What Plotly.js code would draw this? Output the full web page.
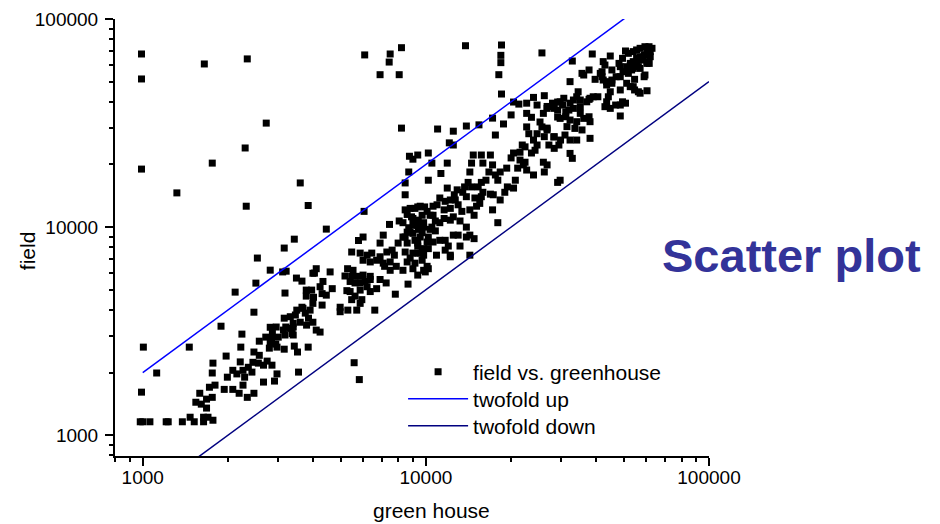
<!DOCTYPE html>
<html>
<head>
<meta charset="utf-8">
<script src="https://cdn.plot.ly/plotly-3.0.1.min.js"></script>
<style>html,body{margin:0;padding:0;background:#fff;}#chart{width:940px;height:524px;}</style>
</head>
<body>
<div id="chart"></div>
<script>
// green house (x) and field (y) values
const greenhouse = [
990,990,1650,2340,2730,2300,1760,990,3600,1320,2320,3840,3430,3160,2540,2820,3210,3490,3650,2510,
4040,2120,3180,3780,4010,2470,1890,2240,3160,3200,3400,2820,3400,2720,2580,2820,2980,2800,2950,3160,
3430,3520,3840,2220,2470,2580,1460,1005,1120,990,1970,1770,1760,1990,2080,2150,2260,2360,2430,2290,
2450,2560,2670,2750,2860,2980,2920,2670,2080,2190,2340,2470,2260,1940,1800,1720,1760,1680,1590,1540,
1610,1680,1640,1700,1470,1770,1520,1640,1380,1230,1210,1060,980,1000,3550,5580,5820,2210,
6050,4450,7440,8050,8590,8800,9360,9900,10600,10350,9700,9000,9360,9820,10500,10800,8590,9000,8300,9550,
10100,9360,7980,7600,7070,6890,5780,6000,5470,5860,6200,6440,6000,6360,6700,7070,7480,6890,7280,7740,
8450,8800,9360,9700,9820,8590,9150,9700,10100,9820,10900,10200,10600,7860,8300,7480,7150,9000,9360,10200,
9950,5290,5530,5470,5780,6000,6360,6360,6100,5860,5620,5860,6200,6360,6700,5400,5620,5470,5940,5860,
4980,5300,5700,4980,6600,6890,7240,7800,8650,5180,5400,5260,4590,4670,4450,4300,4230,4330,3990,4100,
3950,3780,3990,4300,3900,3680,3650,3500,3460,3320,3750,3850,3600,3400,3140,3320,3790,3990,4100,4230,
2960,2870,3010,2850,3180,3370,3120,
8200,11000,12500,13900,15400,17200,18800,17600,20400,22700,24700,26800,28000,29200,20000,22700,23600,25300,25700,22700,
23100,24700,26800,28300,29200,24000,24700,24300,23600,22400,21900,21500,20400,20000,21500,22400,22100,21100,26000,26200,
24000,22700,29200,29800,19300,18300,17600,17950,19400,20400,19000,17300,18300,16900,15700,14700,14500,15900,17200,16700,
16300,15700,15300,15900,16900,15700,14900,14300,14100,14500,13700,13500,13900,12900,12600,12700,12200,11700,11900,11200,
10950,11600,12200,13000,13400,14300,15100,15500,14800,10600,10800,11200,11600,12200,12500,13200,13900,14300,12500,13000,
13900,14800,13200,12200,14300,17950,17200,11200,11700,12000,11700,20700,8750,9000,9360,8700,10200,8450,11900,11300,
10200,8450,12100,12500,8450,9150,9550,10100,8900,9400,8300,8700,9000,9400,9820,10350,9700,10200,8800,8450,
9150,8590,9360,9820,9550,9000,12200,24000,21300,26200,10500,
25700,32900,38700,44800,50700,49500,48100,48600,42300,42900,45400,41900,41300,37700,36100,32300,51900,54000,55500,57100,
59400,61400,62900,62000,60400,59000,57100,55500,58300,60400,54000,52700,51200,54000,56300,49700,51900,48600,47000,53300,
55500,57100,60400,59400,54600,52700,54600,57100,60400,51200,48600,45400,43500,44800,44100,43500,42900,44800,46800,49500,
48600,50700,48600,45400,43500,41900,42300,39600,35600,34500,34100,33200,35100,32300,30700,29800,27500,26800,29200,30400,
31200,32000,33200,35100,37000,38000,39000,40500,35100,36100,37700,38000,34100,32300,31200,29800,31500,33600,35600,38000,
31000,29900,32300,34100,28400,26200,26800,26000,28400,32300,32900,26800,28400,29500,27200,54000,56300,59000,61500,62000,
37700,
6080,7480,7420,8200,6890,8050,13800,18500,18400,18400,18100,18500
];
const field = [
67900,51500,60800,64300,31600,24000,20300,19000,16300,14600,12600,12700,8750,7930,7100,6210,6140,5690,5500,5380,
6010,4870,4820,4980,4600,3900,3340,3060,3650,3310,3310,3300,3030,2960,2830,2770,2650,2620,2740,2590,
2680,2510,2650,2650,2510,2420,2650,2650,1990,1610,2400,2220,1990,1900,2050,1970,2050,2120,2010,1900,
2240,2220,2170,2270,2170,1970,1820,1800,1660,1590,1520,1590,1740,1660,1740,1700,1520,1490,1590,1440,
1410,1350,1220,1220,1220,1180,1160,1160,1160,1160,1160,1160,1160,1160,2010,2230,1850,2250,
11900,9780,10300,10700,11500,12300,12500,12500,12600,11400,11400,11000,10200,10500,10000,9590,9460,9330,8960,8960,
8480,8380,8380,7750,9150,8380,8620,8960,7590,7500,7330,7500,6930,6800,6930,6710,6800,7200,7590,7330,
7590,7100,7500,7750,7330,6800,6710,6930,6480,6200,7330,7880,8480,6480,6200,6200,6480,6310,5880,6310,
6090,6310,6200,5800,5800,5880,5800,5600,5480,5390,5390,4980,5170,4900,5060,4900,4660,4480,4480,4300,
4120,3990,3990,3920,3990,5600,5390,4760,5320,5820,5480,4950,6090,5060,4710,4790,5170,5480,6000,6310,
4980,4660,4300,4220,3990,4070,4120,3990,3780,3710,3860,3650,3490,3450,3200,3260,3380,3490,3200,3130,
3310,3080,2960,2860,3030,3080,6090,
29900,29600,28900,30600,31000,33400,31300,27700,39900,39400,38600,38000,39400,39900,34600,35200,33700,32000,30300,30300,
28100,28100,29900,27100,33800,26200,24800,23400,22700,24300,24800,22900,22700,21500,21000,20500,19900,19200,20500,18400,
17800,18800,16400,16800,19200,18400,17800,16800,15600,15400,14700,14300,13500,22200,22200,22200,20300,20300,19900,18400,
16800,16400,15600,14700,14400,14000,13800,18400,16400,15600,15600,14700,14000,15100,14300,13500,13500,13300,15400,13800,
12800,12100,12300,12800,11900,12100,12600,13000,11400,11400,10700,10500,11000,10800,11200,10700,10000,9150,9150,9150,
8960,8800,8110,7330,7330,10500,12100,8640,8640,8110,7750,16800,21900,21200,22200,18400,22700,16300,20300,18100,
16800,14300,25400,24800,12100,12300,12600,11900,11200,10800,10500,9930,10200,9750,10000,9750,9400,8960,9460,8960,
8640,8380,8110,7880,7500,7500,7200,42000,39000,42800,20300,
68700,62800,67900,66400,70200,64700,61200,59000,62400,60100,56900,55800,54800,56900,53800,50000,68400,69700,71000,72300,
73600,73600,72300,69700,68400,67200,65900,64700,63500,62400,62400,61200,59000,57900,59000,55800,54800,52800,52800,56900,
61200,57900,61200,53800,51300,47300,45600,44000,45200,49100,45600,49100,48200,44700,42300,40000,37900,37200,38600,40000,
38600,39400,34200,50900,50000,52800,50900,51300,54800,44700,42300,40800,40800,39400,41600,40000,37900,37200,36500,38600,
35800,36500,37200,37900,40000,41600,42300,42300,35200,33300,33900,32100,32100,32700,33900,33300,30400,29800,29300,26700,
27700,26200,26200,26200,27200,27200,29300,35200,37200,22600,21400,19900,23900,24800,24800,47300,44700,52800,61200,65900,
41100,
67200,67900,62100,72800,54000,54000,74400,75000,66900,61700,54000,43600
];
// reference lines: twofold up (y = 2x) and twofold down (y = x/2)
const upX = [1000, 100000];
const upY = [2000, 200000];
const downX = [1000, 100000];
const downY = [500, 50000];
// axis ticks
const tickVals = [1000, 10000, 100000];
const tickText = ['1000', '10000', '100000'];
const minorVals = [800, 900, 2000, 3000, 4000, 5000, 6000, 7000, 8000, 9000,
  20000, 30000, 40000, 50000, 60000, 70000, 80000, 90000];
const seriesNames = ['field vs. greenhouse', 'twofold up', 'twofold down'];

const FONT = 'Liberation Sans, Arial, Helvetica, sans-serif';

const traces = [
  {x: greenhouse, y: field, mode: 'markers', type: 'scatter', name: seriesNames[0],
   legend: 'legend',
   marker: {symbol: 'square', size: 7, color: '#000000', line: {width: 0}}},
  {x: upX, y: upY, mode: 'lines', type: 'scatter', name: seriesNames[1],
   legend: 'legend2',
   line: {color: '#0000ff', width: 1.5}},
  {x: downX, y: downY, mode: 'lines', type: 'scatter', name: seriesNames[2],
   legend: 'legend3',
   line: {color: '#000080', width: 1.5}}
];

function axis(range, standoff) {
  return {
    type: 'log', range: range, showline: true, linecolor: '#000', linewidth: 2,
    showgrid: false, zeroline: false, mirror: false,
    ticks: 'outside', ticklen: 8, tickwidth: 2, tickcolor: '#000',
    tickmode: 'array', tickvals: tickVals, ticktext: tickText,
    ticklabelstandoff: standoff,
    tickfont: {family: FONT, size: 19, color: '#000'},
    minor: {tickmode: 'array', tickvals: minorVals, ticks: 'outside', ticklen: 4,
            tickwidth: 2, tickcolor: '#000', showgrid: false}
  };
}

function legendAt(yPaper) {
  return {x: 0.485, xanchor: 'left', y: yPaper, yanchor: 'middle',
          bgcolor: 'rgba(0,0,0,0)', borderwidth: 0, itemwidth: 60,
          font: {family: FONT, size: 21, color: '#000'}};
}

const layout = {
  width: 940, height: 524,
  margin: {l: 115, r: 231, t: 19, b: 68, pad: 0},
  paper_bgcolor: '#fff', plot_bgcolor: '#fff',
  font: {family: FONT, color: '#000'},
  xaxis: axis([2.902, 5], -5),
  yaxis: axis([2.9, 5], 3),
  showlegend: true,
  legend: legendAt(0.1922),
  legend2: legendAt(0.1304),
  legend3: legendAt(0.0686),
  annotations: [
    {text: 'field', xref: 'paper', yref: 'paper', x: -0.148, y: 0.469,
     textangle: -90, showarrow: false, xanchor: 'center', yanchor: 'middle',
     font: {family: FONT, size: 21, color: '#000'}},
    {text: 'green house', xref: 'paper', yref: 'paper', x: 0.532, y: -0.1236,
     showarrow: false, xanchor: 'center', yanchor: 'middle',
     font: {family: FONT, size: 21, color: '#000'}},
    {text: 'Scatter plot', xref: 'paper', yref: 'paper', x: 0.9175, y: 0.458,
     showarrow: false, xanchor: 'left', yanchor: 'middle',
     font: {family: FONT, size: 47, color: '#333399', weight: 'bold'}}
  ]
};

Plotly.newPlot('chart', traces, layout, {staticPlot: true, displayModeBar: false});
</script>
</body>
</html>
